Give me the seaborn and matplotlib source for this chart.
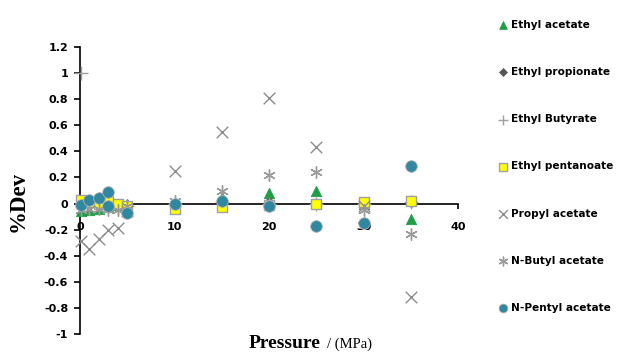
import matplotlib
matplotlib.use("Agg")
import matplotlib.pyplot as plt
import seaborn as sns
import numpy as np
import pandas as pd

# ---- data ----
pressure = [0.1, 1, 2, 3, 4, 5, 10, 15, 20, 25, 30, 35]
pressure_pentyl = [0.1, 1, 2, 3, 3, 5, 10, 15, 20, 25, 30, 35]

ethyl_acetate = [-0.06, -0.05, -0.04, -0.03, -0.01, 0.0, -0.01, 0.05, 0.08, 0.10, 0.0, -0.12]
ethyl_propionate = [-0.02, -0.01, 0.0, 0.01, 0.0, -0.01, -0.01, 0.0, 0.01, 0.0, 0.0, 0.01]
ethyl_butyrate = [1.0, -0.02, -0.01, -0.02, -0.03, -0.02, 0.0, 0.01, 0.0, 0.0, 0.0, 0.01]
ethyl_pentanoate = [0.03, 0.01, 0.0, 0.02, 0.0, -0.02, -0.04, -0.03, -0.01, 0.0, 0.01, 0.02]
propyl_acetate = [-0.29, -0.35, -0.27, -0.20, -0.19, -0.06, 0.25, 0.55, 0.81, 0.43, -0.02, -0.72]
butyl_acetate = [-0.05, -0.04, -0.04, -0.05, -0.05, -0.02, 0.02, 0.10, 0.22, 0.24, -0.05, -0.23]
pentyl_acetate = [-0.01, 0.03, 0.04, 0.09, -0.02, -0.07, 0.0, 0.02, -0.02, -0.17, -0.15, 0.29]

labels = ["Ethyl acetate", "Ethyl propionate", "Ethyl Butyrate", "Ethyl pentanoate",
          "Propyl acetate", "N-Butyl acetate", "N-Pentyl acetate"]
y_ticks = [1.2, 1, 0.8, 0.6, 0.4, 0.2, 0, -0.2, -0.4, -0.6, -0.8, -1]
y_tick_labels = ["1.2", "1", "0.8", "0.6", "0.4", "0.2", "0", "-0.2", "-0.4", "-0.6", "-0.8", "-1"]
x_ticks = [0, 10, 20, 30, 40]
x_tick_labels = ["0", "10", "20", "30", "40"]

series = [
    (ethyl_acetate, pressure, dict(marker="^", color="#1f9e46", edgecolor="#1f9e46", s=55)),
    (ethyl_propionate, pressure, dict(marker="D", color="#555555", edgecolor="#555555", s=30)),
    (ethyl_butyrate, pressure, dict(marker="+", color="#a0a0a0", s=90, linewidth=1.0)),
    (ethyl_pentanoate, pressure, dict(marker="s", color="#ffff00", edgecolor="#a0a0a0", s=60, linewidth=1.0)),
    (propyl_acetate, pressure, dict(marker="x", color="#8c8c8c", s=70, linewidth=1.0)),
    (butyl_acetate, pressure, dict(marker=(6, 2, 0), color="#9a9a9a", s=70, linewidth=1.0)),
    (pentyl_acetate, pressure_pentyl, dict(marker="o", color="#2f87a0", edgecolor="#b0b0b0", s=70, linewidth=0.6)),
]

sns.set_theme(style="white")
plt.rcParams['font.family'] = ['DejaVu Sans']
plt.rcParams['text.color'] = 'black'

fig = plt.figure(figsize=(6.21, 3.52), dpi=100)
ax = fig.add_axes([80 / 621, 1 - 334 / 352, (458 - 80) / 621, (334 - 47) / 352])

for (vals, xs, kw), lab in zip(series, labels):
    df = pd.DataFrame({"P": xs, "dev": vals})
    sns.scatterplot(data=df, x="P", y="dev", ax=ax, label=lab, clip_on=False, zorder=3, **kw)

ax.set_xlim(0, 40)
ax.set_ylim(-1, 1.2)
ax.spines["top"].set_visible(False)
ax.spines["right"].set_visible(False)
ax.spines["bottom"].set_position(("data", 0))
for sp in ("left", "bottom"):
    ax.spines[sp].set_color("black")
    ax.spines[sp].set_linewidth(1.2)
    ax.spines[sp].set_zorder(2)

ax.set_yticks(y_ticks)
ax.set_yticklabels(y_tick_labels, fontsize=8, fontweight="bold")
ax.set_xticks(x_ticks)
ax.set_xticklabels(x_tick_labels, fontsize=8, fontweight="bold")
ax.tick_params(axis="y", direction="out", length=4.5, width=1.2, pad=4, colors="black", left=True)
ax.tick_params(axis="x", direction="out", length=3.5, width=1.2, pad=10, colors="black", bottom=True)
ax.set_xlabel("")
ax.set_ylabel("")
ax.grid(False)

# y label
fig.text(18 / 621, 1 - 201 / 352, "%Dev", rotation=90, ha="center", va="center",
         fontsize=16.5, fontweight="bold", family=["Liberation Serif"], color="black")
# x label
fig.text(249 / 621, 4 / 352, "Pressure", ha="left", va="baseline",
         fontsize=14, fontweight="bold", family=["Liberation Serif"], color="black")
fig.text(327 / 621, 4 / 352, "/ (MPa)", ha="left", va="baseline",
         fontsize=10.5, family=["Liberation Serif"], color="black")

handles, labs = ax.get_legend_handles_labels()
ax.get_legend().remove()
leg = fig.legend(handles, labs, loc="upper left", bbox_to_anchor=(498 / 621, 1 - 20 / 352),
                 frameon=False, prop={"weight": "bold", "size": 7.6},
                 labelspacing=3.52, handlelength=0.9, handletextpad=0.35, borderpad=0,
                 borderaxespad=0, markerscale=0.75)
for t in leg.get_texts():
    t.set_color("black")

fig.savefig("out.png", dpi=100, facecolor="white")
